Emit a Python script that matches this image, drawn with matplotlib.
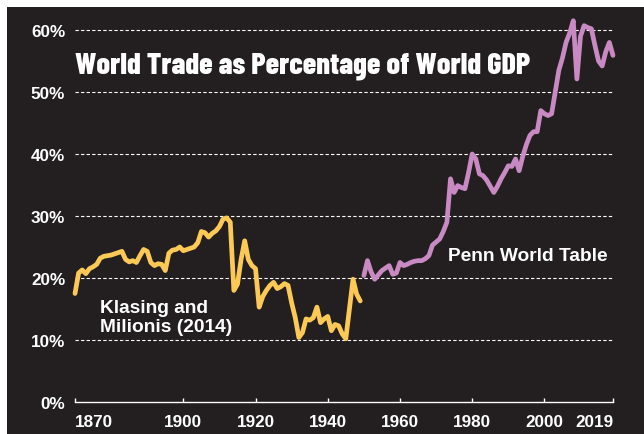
import matplotlib
matplotlib.use('Agg')
import matplotlib.pyplot as plt
from matplotlib.patches import Rectangle

plt.rcParams['font.family'] = ['Liberation Sans', 'DejaVu Sans']

# data, % of world GDP
km_years = list(range(1870, 1950))
km_values = [17.5, 20.8, 21.3, 20.7, 21.5, 21.8, 22.2, 23.2, 23.5, 23.6,
             23.7, 23.9, 24.1, 24.3, 23.0, 22.6, 22.8, 22.5, 23.6, 24.6,
             24.3, 22.5, 22.0, 22.3, 22.2, 21.2, 24.0, 24.5, 24.6, 25.0,
             24.4, 24.6, 24.8, 25.0, 25.7, 27.5, 27.3, 26.6, 27.2, 27.6,
             28.3, 29.5, 29.7, 29.0, 18.0, 19.0, 23.0, 26.0, 23.0, 22.0,
             21.5, 15.3, 17.0, 18.0, 18.8, 19.3, 18.3, 18.6, 19.1, 18.8,
             16.0, 13.6, 10.4, 11.2, 13.4, 13.2, 13.6, 15.3, 12.8, 13.4,
             13.8, 11.5, 12.5, 12.3, 11.0, 10.2, 15.0, 19.8, 17.4, 16.3]

pwt_years = list(range(1950, 2020))
pwt_values = [20.4, 22.8, 21.0, 19.8, 20.5, 21.2, 21.6, 22.0, 20.6, 20.8,
              22.5, 22.0, 22.2, 22.5, 22.7, 22.8, 22.8, 23.1, 23.6, 25.3,
              25.8, 26.3, 27.5, 29.0, 36.0, 33.8, 34.9, 34.6, 34.4, 37.0,
              40.0, 39.2, 36.8, 36.5, 35.8, 34.8, 33.8, 34.8, 36.0, 37.0,
              38.1, 38.0, 39.2, 37.3, 39.6, 41.5, 43.0, 43.6, 43.6, 47.0,
              46.5, 46.2, 46.5, 50.0, 53.5, 55.5, 58.0, 59.5, 61.5, 52.1,
              59.0, 60.7, 60.4, 60.2, 57.5, 55.0, 54.2, 56.5, 58.0, 55.9]

y_ticks = [0, 10, 20, 30, 40, 50, 60]
x_ticks = [1870, 1900, 1920, 1940, 1960, 1980, 2000, 2019]

bg = '#231f20'
yellow = '#fdc956'
purple = '#c98ac3'

fig = plt.figure(figsize=(6.44, 4.35), dpi=100, facecolor='white')
# dark panel, thin white margin at top and left
fig.patches.append(Rectangle((7 / 644, 0), 1, 1 - 8 / 435, transform=fig.transFigure,
                             facecolor=bg, edgecolor='none', zorder=-10))
ax = fig.add_axes([75 / 644, 1 - 403 / 435, 538 / 644, 384.4 / 435])
ax.set_facecolor('none')

ax.plot(km_years, km_values, color=yellow, lw=3.4, solid_capstyle='round',
        solid_joinstyle='round', clip_on=False, zorder=3)
ax.plot(pwt_years, pwt_values, color=purple, lw=3.4, solid_capstyle='round',
        solid_joinstyle='round', clip_on=False, zorder=3)

ax.set_xlim(1870, 2019)
ax.set_ylim(0, 62)

for v in y_ticks[1:]:
    ax.axhline(v, color='white', lw=0.8, ls=(0, (3, 2)), zorder=1)

ax.set_yticks(y_ticks)
ax.set_yticklabels([f'{v}%' for v in y_ticks])
ax.set_xticks(x_ticks)
ax.set_xticklabels([str(v) for v in x_ticks])
labels = ax.get_xticklabels()
labels[0].set_ha('left')
labels[-1].set_ha('right')

ax.tick_params(axis='y', length=0, pad=7, labelsize=12.3, labelcolor='white')
ax.tick_params(axis='x', direction='in', length=3, width=1, color='white',
               pad=9, labelsize=12.3, labelcolor='white')
for lab in ax.get_xticklabels() + ax.get_yticklabels():
    lab.set_fontweight('bold')

for s in ['top', 'right', 'left']:
    ax.spines[s].set_visible(False)
ax.spines['bottom'].set_color('white')
ax.spines['bottom'].set_linewidth(1)

ax.text(1870, 53.2, 'World Trade as Percentage of World GDP', family=['Barlow Condensed'],
        fontweight=800, fontsize=21.8, color='white', va='baseline')
ax.text(1876.9, 13.7, 'Klasing and\nMilionis (2014)', fontsize=13.8, fontweight='bold',
        color='white', va='center', linespacing=1.15)
ax.text(1973.3, 22.9, 'Penn World Table', fontsize=13.8, fontweight='bold',
        color='white', va='baseline')

fig.savefig('out.png', dpi=100, facecolor=fig.get_facecolor())
